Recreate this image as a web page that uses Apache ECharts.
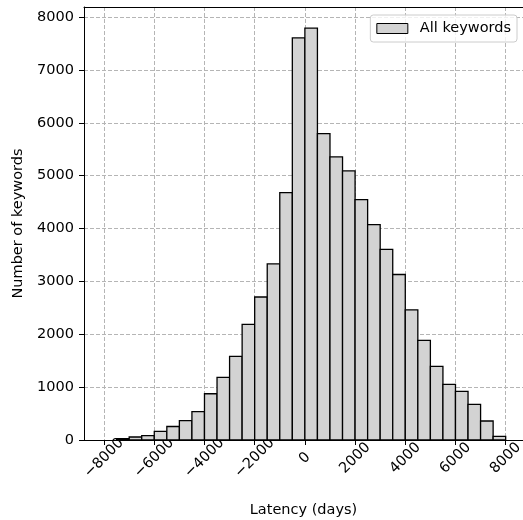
<!DOCTYPE html>
<html>
<head>
<meta charset="utf-8">
<script src="https://cdn.jsdelivr.net/npm/echarts@6/dist/echarts.min.js"></script>
<style>html,body{margin:0;padding:0;background:#fff;overflow:hidden;}#c{width:523px;height:520px;}</style>
</head>
<body>
<div id="c"></div>
<script>
// Histogram bin edges (days) and counts per bin
const binEdges = [-7500, -7000, -6500, -6000, -5500, -5000, -4500, -4000, -3500, -3000, -2500,
  -2000, -1500, -1000, -500, 0, 500, 1000, 1500, 2000, 2500, 3000, 3500, 4000, 4500,
  5000, 5500, 6000, 6500, 7000, 7500, 8000];
const counts = [25, 57, 81, 165, 255, 365, 535, 875, 1185, 1582, 2187,
  2705, 3333, 4680, 7605, 7790, 5795, 5355, 5090, 4545, 4075, 3605, 3130, 2463, 1883,
  1391, 1051, 919, 673, 359, 68];
const xTicks = [-8000, -6000, -4000, -2000, 0, 2000, 4000, 6000, 8000];
const yTicks = [0, 1000, 2000, 3000, 4000, 5000, 6000, 7000, 8000];
const seriesName = 'All keywords';

const data = counts.map((c, i) => [binEdges[i], binEdges[i + 1], c]);
const FONT = 'DejaVu Sans';
const fmt = v => (v < 0 ? '\u2212' + Math.abs(v) : String(v));
const X_MIN = -8800, X_MAX = 8690;

const chart = echarts.init(document.getElementById('c'), null, {renderer: 'canvas'});
chart.setOption({
  animation: false,
  backgroundColor: '#fff',
  textStyle: {fontFamily: FONT},
  grid: {left: 84, right: 0, top: 7, bottom: 80, show: false, outerBoundsMode: 'none', containLabel: false},
  legend: {
    show: true,
    right: 6, top: 15,
    data: [{name: seriesName, icon: 'rect'}],
    itemWidth: 31, itemHeight: 10, itemGap: 8,
    padding: [6, 6, 6, 6],
    backgroundColor: 'rgba(255,255,255,0.8)',
    borderColor: '#cccccc', borderWidth: 1, borderRadius: 3,
    textStyle: {fontFamily: FONT, fontSize: 14.5, color: '#000', padding: [0, 0, 0, 7]},
    itemStyle: {color: '#d3d3d3', borderColor: '#000', borderWidth: 1}
  },
  xAxis: [{
    type: 'value', min: X_MIN, max: X_MAX, position: 'bottom',
    name: 'Latency (days)', nameLocation: 'middle', nameGap: 63,
    nameTextStyle: {fontFamily: FONT, fontSize: 14.5, color: '#000'},
    axisLine: {show: true, onZero: false, lineStyle: {color: '#000', width: 1}},
    axisTick: {show: true, length: 5, lineStyle: {color: '#000', width: 1}, customValues: xTicks},
    axisLabel: {show: true, customValues: xTicks, rotate: 45, align: 'center', verticalAlign: 'middle', margin: 18,
      fontFamily: FONT, fontSize: 14.5, color: '#000', formatter: fmt},
    splitLine: {show: true, lineStyle: {color: '#b5b5b5', width: 1, type: [4, 2]}}
  }, {
    type: 'value', min: X_MIN, max: X_MAX, position: 'top',
    axisLine: {show: true, onZero: false, lineStyle: {color: '#000', width: 1}},
    axisTick: {show: false}, axisLabel: {show: false}, splitLine: {show: false}
  }],
  yAxis: {
    type: 'value', min: 0, max: 8190,
    name: 'Number of keywords', nameLocation: 'middle', nameGap: 48, nameRotate: 90,
    nameTextStyle: {fontFamily: FONT, fontSize: 14.5, color: '#000'},
    axisLine: {show: true, onZero: false, lineStyle: {color: '#000', width: 1}},
    axisTick: {show: true, length: 5, lineStyle: {color: '#000', width: 1}, customValues: yTicks},
    axisLabel: {show: true, customValues: yTicks, margin: 10, fontFamily: FONT, fontSize: 14.5, color: '#000', formatter: fmt},
    splitLine: {show: true, lineStyle: {color: '#b5b5b5', width: 1, type: [4, 2]}}
  },
  series: [{
    name: seriesName,
    type: 'custom',
    xAxisIndex: 0,
    itemStyle: {color: '#d3d3d3', borderColor: '#000', borderWidth: 1},
    encode: {x: [0, 1], y: 2},
    data: data,
    z: 3,
    renderItem: function (params, api) {
      const p0 = api.coord([api.value(0), api.value(2)]);
      const p1 = api.coord([api.value(1), 0]);
      return {
        type: 'rect',
        shape: {x: p0[0], y: p0[1], width: p1[0] - p0[0], height: p1[1] - p0[1]},
        style: {fill: '#d3d3d3', stroke: '#000', lineWidth: 1.3}
      };
    }
  }]
});
</script>
</body>
</html>
